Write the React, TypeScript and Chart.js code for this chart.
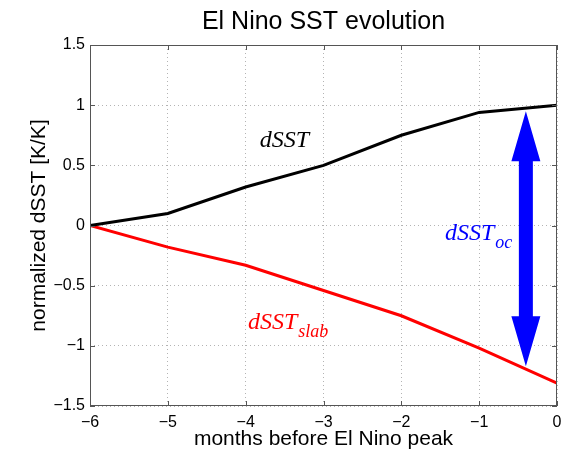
import React, { useEffect, useRef } from "react";
import { Chart, registerables } from "chart.js";

Chart.register(...registerables);

// Months before the El Nino peak
const months = [-6, -5, -4, -3, -2, -1, 0];
// Normalized SST change (total) and the slab-ocean part
const dSST = [0, 0.1, 0.32, 0.5, 0.75, 0.94, 1.0];
const dSSTslab = [0, -0.18, -0.33, -0.54, -0.75, -1.02, -1.31];

const xTicks = [-6, -5, -4, -3, -2, -1, 0];
const yTicks = [-1.5, -1, -0.5, 0, 0.5, 1, 1.5];

// Double arrow showing the ocean-dynamics contribution
const ocArrowX = -0.4;
const ocArrowTop = 0.95;
const ocArrowBottom = -1.17;

const TITLE = "El Nino SST evolution";
const X_TITLE = "months before El Nino peak";
const Y_TITLE = "normalized dSST [K/K]";

const fmt = (v: number) => String(v).replace("-", "\u2212");

const SANS = "'Liberation Sans', Arial, Helvetica, sans-serif";
const SERIF = "'Liberation Serif', 'Times New Roman', serif";

const decorations = {
  id: "decorations",
  afterDatasetsDraw(chart: any) {
    const { ctx, chartArea: a, scales } = chart;
    const xs = scales.x;
    const ys = scales.y;
    ctx.save();

    // axes box with inward ticks
    ctx.strokeStyle = "#555";
    ctx.lineWidth = 1;
    ctx.strokeRect(a.left + 0.5, a.top + 0.5, a.right - a.left - 1, a.bottom - a.top - 1);
    const tl = 5;
    ctx.beginPath();
    for (const t of xTicks) {
      const px = Math.round(xs.getPixelForValue(t)) + 0.5;
      ctx.moveTo(px, a.bottom);
      ctx.lineTo(px, a.bottom - tl);
      ctx.moveTo(px, a.top);
      ctx.lineTo(px, a.top + tl);
    }
    for (const t of yTicks) {
      const py = Math.round(ys.getPixelForValue(t)) + 0.5;
      ctx.moveTo(a.left, py);
      ctx.lineTo(a.left + tl, py);
      ctx.moveTo(a.right, py);
      ctx.lineTo(a.right - tl, py);
    }
    ctx.stroke();

    // double arrow
    const ax = xs.getPixelForValue(ocArrowX);
    const at = ys.getPixelForValue(ocArrowTop);
    const ab = ys.getPixelForValue(ocArrowBottom);
    const headLen = 50;
    const headHalf = 14.5;
    const shaftHalf = 7;
    ctx.fillStyle = "#0000ff";
    ctx.beginPath();
    ctx.moveTo(ax, at);
    ctx.lineTo(ax + headHalf, at + headLen);
    ctx.lineTo(ax + shaftHalf, at + headLen);
    ctx.lineTo(ax + shaftHalf, ab - headLen);
    ctx.lineTo(ax + headHalf, ab - headLen);
    ctx.lineTo(ax, ab);
    ctx.lineTo(ax - headHalf, ab - headLen);
    ctx.lineTo(ax - shaftHalf, ab - headLen);
    ctx.lineTo(ax - shaftHalf, at + headLen);
    ctx.lineTo(ax - headHalf, at + headLen);
    ctx.closePath();
    ctx.fill();

    // series labels
    const label = (x: number, y: number, main: string, sub: string, color: string) => {
      const px = xs.getPixelForValue(x);
      const py = ys.getPixelForValue(y);
      ctx.fillStyle = color;
      ctx.textAlign = "left";
      ctx.textBaseline = "alphabetic";
      ctx.font = `italic 24px ${SERIF}`;
      ctx.fillText(main, px, py);
      if (sub) {
        const w = ctx.measureText(main).width;
        ctx.font = `italic 18px ${SERIF}`;
        ctx.fillText(sub, px + w + 1, py + 8);
      }
    };
    label(-3.82, 0.65, "dSST", "", "#000000");
    label(-1.44, -0.12, "dSST", "oc", "#0000ff");
    label(-3.97, -0.86, "dSST", "slab", "#ff0000");

    // title and axis titles
    const cx = (a.left + a.right) / 2;
    const cy = (a.top + a.bottom) / 2;
    ctx.fillStyle = "#000";
    ctx.textAlign = "center";
    ctx.textBaseline = "alphabetic";
    ctx.font = `25px ${SANS}`;
    ctx.fillText(TITLE, cx, 29);
    ctx.font = `21px ${SANS}`;
    ctx.fillText(X_TITLE, cx, 445);
    ctx.save();
    ctx.translate(45, cy);
    ctx.rotate(-Math.PI / 2);
    ctx.fillText(Y_TITLE, 0, 0);
    ctx.restore();

    ctx.restore();
  },
};

export default function App() {
  const ref = useRef<HTMLCanvasElement | null>(null);

  useEffect(() => {
    if (!ref.current) return;
    const chart = new Chart(ref.current, {
      type: "line",
      data: {
        datasets: [
          {
            label: "dSST",
            data: months.map((m, i) => ({ x: m, y: dSST[i] })),
            borderColor: "#000000",
            borderWidth: 3,
            pointRadius: 0,
            tension: 0,
          },
          {
            label: "dSST slab",
            data: months.map((m, i) => ({ x: m, y: dSSTslab[i] })),
            borderColor: "#ff0000",
            borderWidth: 3,
            pointRadius: 0,
            tension: 0,
          },
        ],
      },
      options: {
        responsive: false,
        animation: false,
        layout: { padding: { top: 45, right: 13, left: 0, bottom: 0 } },
        plugins: {
          legend: { display: false },
          tooltip: { enabled: false },
          title: { display: false },
        },
        scales: {
          x: {
            type: "linear",
            min: -6,
            max: 0,
            afterFit: (s: any) => {
              s.height = 44;
            },
            afterBuildTicks: (s: any) => {
              s.ticks = xTicks.map((v) => ({ value: v }));
            },
            ticks: {
              callback: (v: any) => fmt(Number(v)),
              color: "#000",
              font: { family: SANS, size: 16 },
              padding: 7,
              maxRotation: 0,
            },
            grid: { color: "#b4b4b4", lineWidth: 1, drawTicks: false },
            border: { display: false, dash: [1, 3] },
          },
          y: {
            type: "linear",
            min: -1.5,
            max: 1.5,
            afterFit: (s: any) => {
              s.width = 90;
            },
            afterBuildTicks: (s: any) => {
              s.ticks = yTicks.map((v) => ({ value: v }));
            },
            ticks: {
              callback: (v: any) => fmt(Number(v)),
              color: "#000",
              font: { family: SANS, size: 16 },
              padding: 5,
            },
            grid: { color: "#b4b4b4", lineWidth: 1, drawTicks: false },
            border: { display: false, dash: [1, 3] },
          },
        },
      },
      plugins: [decorations],
    });
    return () => chart.destroy();
  }, []);

  return (
    <div style={{ position: "absolute", left: 0, top: 0, width: 570, height: 450, background: "#fff" }}>
      <canvas ref={ref} width={570} height={450} />
    </div>
  );
}
